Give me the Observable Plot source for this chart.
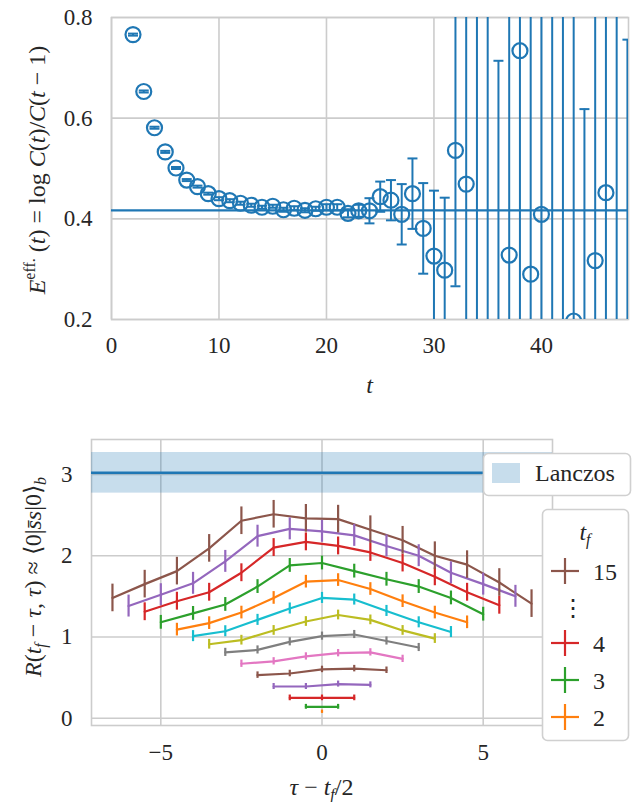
<!DOCTYPE html>
<html><head><meta charset="utf-8">
<script src="https://cdn.jsdelivr.net/npm/d3@7"></script>
<script src="https://cdn.jsdelivr.net/npm/@observablehq/plot@0.6"></script>
<style>
html,body{margin:0;padding:0;background:#fff;}
#fig{position:relative;width:638px;height:802px;font-family:"Liberation Serif","Times New Roman",serif;color:#262626;}
#fig > svg{display:block;}
#fig svg text{font-family:"Liberation Serif","Times New Roman",serif;}
#overlay{position:absolute;left:0;top:0;pointer-events:none;}
</style></head><body><div id="fig"></div>
<script>
// ---------- top panel data: effective mass ----------
const tEff = [2,3,4,5,6,7,8,9,10,11,12,13,14,15,16,17,18,19,20,21,22,23,24,25,26,27,28,29,30,31,32,33,34,35,36,37,38,39,40,41,42,43,44,45,46,47,48];
const effVal = [0.766,0.653,0.581,0.533,0.501,0.477,0.464,0.450,0.440,0.436,0.431,0.427,0.423,0.425,0.418,0.421,0.417,0.420,0.423,0.423,0.411,0.416,0.416,0.444,0.437,0.409,0.450,0.381,0.326,0.298,0.536,0.469,0.10,0.95,0.10,0.328,0.734,0.290,0.409,0.0,0.90,0.197,0.05,0.317,0.452,1.00,0.10];
const effErr = [0.002,0.002,0.002,0.002,0.002,0.002,0.002,0.002,0.003,0.003,0.003,0.003,0.003,0.003,0.004,0.004,0.004,0.004,0.006,0.006,0.008,0.012,0.025,0.03,0.04,0.06,0.07,0.09,0.13,0.144,0.27,0.45,0.9,0.9,0.614,0.6,0.7,0.6,0.6,1.0,0.9,0.7,0.568,0.6,0.6,1.0,0.656];
const plateau = [0.417];
const xTicksTop = [0,10,20,30,40];
const yTicksTop = [0.2,0.4,0.6,0.8];

// ---------- bottom panel data: ratio R(tf - tau, tau) ----------
const tfList = [2,3,4,5,6,7,8,9,10,11,12,13,14,15];
const r2  = [0.08];
const r3  = [0.14,0.14];
const r4  = [0.25,0.25,0.25];
const r5  = [0.39,0.39,0.42,0.41];
const r6  = [0.53,0.55,0.60,0.61,0.59];
const r7  = [0.67,0.70,0.76,0.80,0.81,0.73];
const r8  = [0.81,0.84,0.94,1.01,1.03,0.95,0.87];
const r9  = [0.91,0.96,1.08,1.19,1.27,1.21,1.08,0.98];
const r10 = [1.01,1.07,1.21,1.35,1.48,1.46,1.32,1.18,1.06];
const r11 = [1.09,1.17,1.30,1.48,1.68,1.70,1.59,1.44,1.30,1.18];
const r12 = [1.18,1.29,1.40,1.62,1.88,1.91,1.81,1.71,1.62,1.48,1.28];
const r13 = [1.31,1.44,1.55,1.79,2.10,2.17,2.12,2.04,1.91,1.74,1.55,1.39];
const r14 = [1.38,1.52,1.66,1.93,2.24,2.33,2.30,2.25,2.12,2.00,1.79,1.65,1.50];
const r15 = [1.48,1.65,1.81,2.09,2.43,2.51,2.46,2.45,2.32,2.19,2.00,1.89,1.67,1.41];
const rErr = [0.02,0.03,0.035,0.037,0.04,0.045,0.05,0.06,0.068,0.078,0.085,0.11,0.135,0.17];
const tfColors = ["#ff7f0e","#2ca02c","#d62728","#9467bd","#8c564b","#e377c2","#7f7f7f","#bcbd22","#17becf","#ff7f0e","#2ca02c","#d62728","#9467bd","#8c564b"];
const lanczosVal = 3.02, lanczosErr = 0.25;
const xTicksBot = [-5,0,5];
const yTicksBot = [0,1,2,3];
const xDomBot = [-7.15, 7.15];
const legendTf = ["15","⋮","4","3","2"];
const legendTfColors = ["#8c564b", null, "#d62728", "#2ca02c", "#ff7f0e"];

const blue = "#1f77b4";
const gridCol = "#cccccc";
const font = '"Liberation Serif","Times New Roman",serif';
const textCol = "#262626";
const tickFs = 23, labFs = 24;

const rSeries = [r2,r3,r4,r5,r6,r7,r8,r9,r10,r11,r12,r13,r14,r15];
const rRows = [];
tfList.forEach((tf, k) => {
  rSeries[k].forEach((v, i) => {
    const tau = i + 1;
    rRows.push({tf, x: tau - tf / 2, v, e: rErr[k]});
  });
});
const topRows = tEff.map((t, i) => ({t, v: effVal[i], e: effErr[i]}));

const capSymbol = {draw(ctx, size) { const w = Math.sqrt(size / Math.PI); ctx.moveTo(-w, 0); ctx.lineTo(w, 0); }};

const fig = document.getElementById("fig");
const minusFmt = d => (d < 0 ? "−" : "") + Math.abs(d);

const topPlot = Plot.plot({
  width: 638, height: 400,
  marginLeft: 111, marginRight: 10, marginTop: 17, marginBottom: 81,
  style: {fontFamily: font, fontSize: tickFs + "px", color: textCol, background: "#fff", overflow: "visible"},
  x: {domain: [0, 48.1]},
  y: {domain: [0.2, 0.8]},
  marks: [
    Plot.gridX(xTicksTop, {stroke: gridCol, strokeOpacity: 1, strokeWidth: 1.6}),
    Plot.gridY(yTicksTop, {stroke: gridCol, strokeOpacity: 1, strokeWidth: 1.6}),
    Plot.frame({stroke: gridCol, strokeWidth: 1.6}),
    Plot.axisX(xTicksTop, {tickSize: 0, tickPadding: 17, label: null, fontSize: tickFs, fontFamily: font, fill: textCol, tickFormat: minusFmt}),
    Plot.axisY(yTicksTop, {tickSize: 0, tickPadding: 19, label: null, fontSize: tickFs, fontFamily: font, fill: textCol, tickFormat: d3.format(".1f")}),
    Plot.ruleY(plateau, {stroke: blue, strokeWidth: 2.2}),
    Plot.ruleX(topRows, {x: "t", y1: d => d.v - d.e, y2: d => d.v + d.e, stroke: blue, strokeWidth: 2, clip: true}),
    Plot.dot(topRows, {x: "t", y: d => d.v - d.e, symbol: capSymbol, r: 5, stroke: blue, fill: "none", strokeWidth: 2, clip: true}),
    Plot.dot(topRows, {x: "t", y: d => d.v + d.e, symbol: capSymbol, r: 5, stroke: blue, fill: "none", strokeWidth: 2, clip: true}),
    Plot.dot(topRows, {x: "t", y: "v", r: 7.5, stroke: blue, fill: "none", strokeWidth: 2.2, clip: true})
  ]
});
fig.appendChild(topPlot);

const botPlot = Plot.plot({
  width: 638, height: 402,
  marginLeft: 91, marginRight: 86, marginTop: 39, marginBottom: 77,
  style: {fontFamily: font, fontSize: tickFs + "px", color: textCol, background: "#fff", overflow: "visible"},
  x: {domain: xDomBot},
  y: {domain: [-0.09, 3.43]},
  color: {type: "ordinal", domain: tfList, range: tfColors},
  marks: [
    Plot.gridX(xTicksBot, {stroke: gridCol, strokeOpacity: 1, strokeWidth: 1.6}),
    Plot.gridY(yTicksBot, {stroke: gridCol, strokeOpacity: 1, strokeWidth: 1.6}),
    Plot.frame({stroke: gridCol, strokeWidth: 1.6}),
    Plot.axisX(xTicksBot, {tickSize: 0, tickPadding: 18, label: null, fontSize: tickFs, fontFamily: font, fill: textCol, tickFormat: minusFmt}),
    Plot.axisY(yTicksBot, {tickSize: 0, tickPadding: 19, label: null, fontSize: tickFs, fontFamily: font, fill: textCol, tickFormat: minusFmt}),
    Plot.rect([{v: lanczosVal, e: lanczosErr}], {x1: () => xDomBot[0], x2: () => xDomBot[1], y1: d => d.v - d.e, y2: d => d.v + d.e, fill: blue, fillOpacity: 0.25}),
    Plot.ruleY([lanczosVal], {stroke: blue, strokeWidth: 2.5}),
    Plot.line(rRows, {x: "x", y: "v", z: "tf", stroke: "tf", strokeWidth: 2.2}),
    Plot.ruleX(rRows, {x: "x", y1: d => d.v - d.e, y2: d => d.v + d.e, stroke: "tf", strokeWidth: 2.2})
  ]
});
fig.appendChild(botPlot);

// ---------- axis labels (math-style text) ----------
function addParts(textSel, parts) {
  parts.forEach(p => {
    const ts = textSel.append("tspan").text(p.t);
    if (p.i) ts.style("font-style", "italic");
    if (p.fs) ts.attr("font-size", p.fs);
    if (p.dy) ts.attr("dy", p.dy);
  });
}
const sTop = d3.select(topPlot);
const tl = sTop.append("text").attr("x", 369.5).attr("y", 393).attr("text-anchor", "middle")
  .attr("font-size", labFs).attr("fill", textCol).attr("font-family", font);
addParts(tl, [{t: "t", i: true}]);

const yl = sTop.append("text").attr("transform", "translate(45,170) rotate(-90)").attr("text-anchor", "middle")
  .attr("font-size", labFs).attr("fill", textCol).attr("font-family", font);
addParts(yl, [
  {t: "E", i: true}, {t: "eff.", fs: 16, dy: -10}, {t: " (", dy: 10}, {t: "t", i: true}, {t: ") = log "},
  {t: "C", i: true}, {t: "("}, {t: "t", i: true}, {t: ")/"}, {t: "C", i: true}, {t: "("}, {t: "t", i: true}, {t: " − 1)"}
]);

const sBot = d3.select(botPlot);
const bl = sBot.append("text").attr("x", 321.5).attr("y", 395).attr("text-anchor", "middle")
  .attr("font-size", labFs).attr("fill", textCol).attr("font-family", font);
addParts(bl, [{t: "τ", i: true}, {t: " − "}, {t: "t", i: true}, {t: "f", i: true, fs: 16, dy: 5}, {t: "/2", dy: -5}]);

const byl = sBot.append("text").attr("transform", "translate(41,177) rotate(-90)").attr("text-anchor", "middle")
  .attr("font-size", labFs).attr("fill", textCol).attr("font-family", font);
addParts(byl, [
  {t: "R", i: true}, {t: "("}, {t: "t", i: true}, {t: "f", i: true, fs: 16, dy: 5}, {t: " − ", dy: -5}, {t: "τ", i: true}, {t: ", "},
  {t: "τ", i: true}, {t: ") ≈ ⟨0|"}, {t: "s̄s", i: true}, {t: "|0⟩"}, {t: "b", i: true, fs: 16, dy: 5}
]);

// ---------- legends (overlay) ----------
const ov = d3.select(fig).append("svg").attr("id", "overlay").attr("width", 638).attr("height", 802)
  .attr("font-family", font).attr("fill", textCol);
ov.append("rect").attr("x", 483.5).attr("y", 453.5).attr("width", 147).attr("height", 42).attr("rx", 5)
  .attr("fill", "#fff").attr("stroke", "#d0d0d0").attr("stroke-width", 1.6);
ov.append("rect").attr("x", 492).attr("y", 463).attr("width", 28).attr("height", 20).attr("fill", blue).attr("fill-opacity", 0.25);
ov.append("text").attr("x", 535).attr("y", 481).attr("font-size", 24).text("Lanczos");
ov.append("rect").attr("x", 542.5).attr("y", 509.5).attr("width", 86).attr("height", 231).attr("rx", 5)
  .attr("fill", "#fff").attr("stroke", "#d0d0d0").attr("stroke-width", 1.6);
const tt = ov.append("text").attr("x", 585).attr("y", 540).attr("text-anchor", "middle").attr("font-size", 24);
addParts(tt, [{t: "t", i: true}, {t: "f", i: true, fs: 16, dy: 5}]);
const rowY = [571, 607, 643, 680, 717];
legendTf.forEach((lab, i) => {
  const y = rowY[i];
  const c = legendTfColors[i];
  if (c) {
    ov.append("line").attr("x1", 551).attr("x2", 579).attr("y1", y).attr("y2", y).attr("stroke", c).attr("stroke-width", 2.2);
    ov.append("line").attr("x1", 565).attr("x2", 565).attr("y1", y - 13).attr("y2", y + 13).attr("stroke", c).attr("stroke-width", 2.2);
    ov.append("text").attr("x", 593).attr("y", y + 9).attr("font-size", 24).text(lab);
  } else {
    ov.append("text").attr("x", 573).attr("y", y + 9).attr("text-anchor", "middle").attr("font-size", 24).text(lab);
  }
});
</script></body></html>
